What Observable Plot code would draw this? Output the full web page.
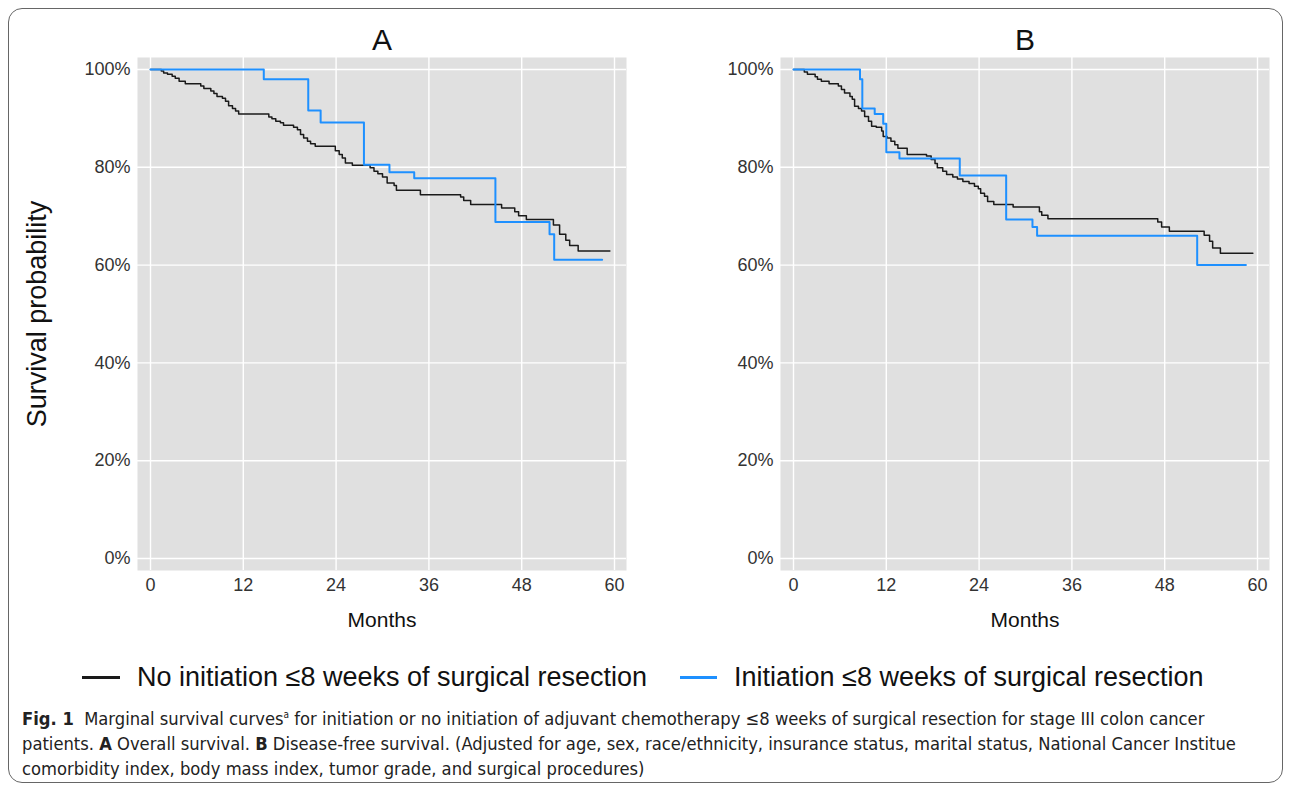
<!DOCTYPE html>
<html>
<head>
<meta charset="utf-8">
<script src="https://cdn.jsdelivr.net/npm/d3@7"></script>
<script src="https://cdn.jsdelivr.net/npm/@observablehq/plot@0.6"></script>
<style>
  html, body { margin: 0; padding: 0; background: #fff; }
  body { width: 1290px; height: 785px; position: relative; overflow: hidden; font-family: "Liberation Sans", Arial, sans-serif; }
  #border { position: absolute; left: 8px; top: 8px; width: 1275px; height: 775px; box-sizing: border-box; border: 1.5px solid #666; border-radius: 14px; }
  .panel { position: absolute; top: 0; }
  .leg-line { position: absolute; height: 2.5px; }
  .leg-text { position: absolute; font-size: 27px; line-height: 30px; color: #111; white-space: nowrap; }
  #caption { position: absolute; left: 22px; top: 702px; font-family: "Liberation Sans Narrow", "DejaVu Sans Condensed", "Roboto Condensed", "Open Sans", sans-serif; font-stretch: condensed; font-size: 18.2px; line-height: 25px; color: #222; white-space: nowrap; }
</style>
</head>
<body>
<div id="border"></div>
<div id="panelA" class="panel" style="left:0px"></div>
<div id="panelB" class="panel" style="left:643px"></div>
<div class="leg-line" style="left:82px; top:676px; width:38px; background:#1a1a1a"></div>
<div class="leg-text" style="left:137px; top:662px">No initiation ≤8 weeks of surgical resection</div>
<div class="leg-line" style="left:680px; top:676px; width:37px; background:#1e90ff"></div>
<div class="leg-text" style="left:734px; top:662px">Initiation ≤8 weeks of surgical resection</div>
<div id="caption"><b>Fig. 1</b>&nbsp; Marginal survival curves<sup style="font-size:10px">a</sup> for initiation or no initiation of adjuvant chemotherapy ≤8 weeks of surgical resection for stage III colon cancer<br>patients. <b>A</b> Overall survival. <b>B</b> Disease-free survival. (Adjusted for age, sex, race/ethnicity, insurance status, marital status, National Cancer Institue<br>comorbidity index, body mass index, tumor grade, and surgical procedures)</div>
<script>
// ---- data: [months, survival %] step points ----
const noInitA = [[0,100],[1.4,99.7],[1.7,99.3],[2.2,99.0],[2.8,98.6],[3.2,98.2],[3.7,97.6],[4.5,97.1],[6.5,96.6],[6.9,96.1],[7.8,95.6],[8.2,95.1],[8.6,94.5],[9.3,94.1],[9.7,93.5],[10.1,92.6],[10.6,92.0],[11.0,91.5],[11.4,90.9],[15.3,90.3],[15.7,89.9],[16.2,89.4],[16.8,89.1],[17.2,88.6],[18.5,88.2],[19.0,87.7],[19.4,86.7],[19.8,86.0],[20.3,85.3],[20.7,84.8],[21.3,84.3],[23.9,83.4],[24.4,82.6],[24.8,81.9],[25.2,80.9],[26.1,80.4],[28.4,79.9],[28.9,79.2],[29.4,78.7],[30.0,78.0],[30.6,76.8],[31.5,76.3],[31.8,75.3],[34.9,74.4],[40.1,73.9],[40.5,73.2],[41.4,72.4],[45.4,71.7],[47.1,70.9],[47.6,70.1],[48.6,69.3],[52.1,68.2],[52.9,66.3],[53.7,65.1],[54.2,64.0],[55.3,62.9],[59.4,62.9]];
const initA = [[0,100],[14.65,98.0],[20.4,91.6],[22.0,89.15],[27.6,80.5],[30.9,79.0],[34.1,77.75],[44.6,68.8],[51.6,66.3],[52.2,61.1],[58.4,61.1]];
const noInitB = [[0,100],[1.4,99.5],[1.8,99.0],[2.8,98.5],[3.1,98.0],[3.6,97.6],[4.6,97.1],[5.8,96.6],[6.2,95.9],[6.6,95.2],[7.3,94.5],[7.6,93.9],[7.9,92.5],[8.4,92.0],[8.8,91.5],[9.2,90.4],[9.7,89.4],[10.1,88.4],[10.7,88.2],[11.4,87.4],[11.6,86.3],[12.1,86.0],[12.6,85.3],[13.1,84.6],[13.5,83.9],[14.7,82.6],[17.2,82.3],[17.8,81.6],[18.3,80.8],[18.6,79.9],[19.3,79.2],[19.8,78.5],[20.6,78.0],[21.2,77.6],[21.9,77.1],[22.7,76.7],[23.4,76.1],[23.9,75.6],[24.2,74.7],[24.7,74.1],[25.1,73.0],[25.9,72.4],[28.4,71.9],[31.8,70.9],[32.1,70.2],[32.9,69.5],[47.1,68.8],[47.6,67.8],[48.6,66.9],[53.1,66.1],[53.8,64.9],[54.2,63.5],[55.2,62.4],[59.4,62.4]];
const initB = [[0,100],[8.6,98.0],[8.9,92.0],[10.5,90.9],[11.6,88.9],[12.0,83.1],[13.7,81.8],[21.5,78.3],[27.5,69.3],[30.9,67.8],[31.5,66.0],[52.2,60.0],[58.5,60.0]];

const xTicks = [0, 12, 24, 36, 48, 60];
const yTicks = [0, 0.2, 0.4, 0.6, 0.8, 1.0];
const panelTitles = ["A", "B"];
const yLabel = "Survival probability";
const xLabel = "Months";

function panel(title, noInit, init, showYLabel) {
  const marks = [
    Plot.frame({fill: "#e0e0e0", stroke: "none"}),
    Plot.gridX(xTicks, {stroke: "white", strokeOpacity: 1, strokeWidth: 1.4}),
    Plot.gridY(yTicks, {stroke: "white", strokeOpacity: 1, strokeWidth: 1.4}),
    Plot.axisX(xTicks, {tickSize: 0, tickPadding: 8, fontSize: 18, fill: "#333", label: null}),
    Plot.axisY(yTicks, {tickSize: 0, tickPadding: 7, fontSize: 18, fill: "#333", label: null, tickFormat: d3.format(".0%")}),
    Plot.line(noInit, {x: d => d[0], y: d => d[1] / 100, curve: "step-after", stroke: "#1a1a1a", strokeWidth: 1.5}),
    Plot.line(init, {x: d => d[0], y: d => d[1] / 100, curve: "step-after", stroke: "#1e90ff", strokeWidth: 2}),
    Plot.text([title], {frameAnchor: "top", lineAnchor: "middle", dy: -17, fontSize: 30, fill: "#111", text: d => d}),
    Plot.text([xLabel], {frameAnchor: "bottom", lineAnchor: "middle", dy: 50, fontSize: 21, fill: "#111", text: d => d})
  ];
  if (showYLabel) {
    marks.push(Plot.text([yLabel], {frameAnchor: "left", textAnchor: "middle", lineAnchor: "middle", dx: -100, rotate: -90, fontSize: 27, fill: "#111", text: d => d}));
  }
  return Plot.plot({
    width: 645, height: 640,
    marginLeft: 137, marginRight: 19, marginTop: 57, marginBottom: 70,
    x: {domain: [-1.68, 61.55]},
    y: {domain: [-0.0245, 1.0245]},
    style: {fontFamily: "'Liberation Sans', Arial, sans-serif", background: "transparent", overflow: "visible"},
    marks
  });
}

document.getElementById("panelA").append(panel(panelTitles[0], noInitA, initA, true));
document.getElementById("panelB").append(panel(panelTitles[1], noInitB, initB, false));
</script>
</body>
</html>
